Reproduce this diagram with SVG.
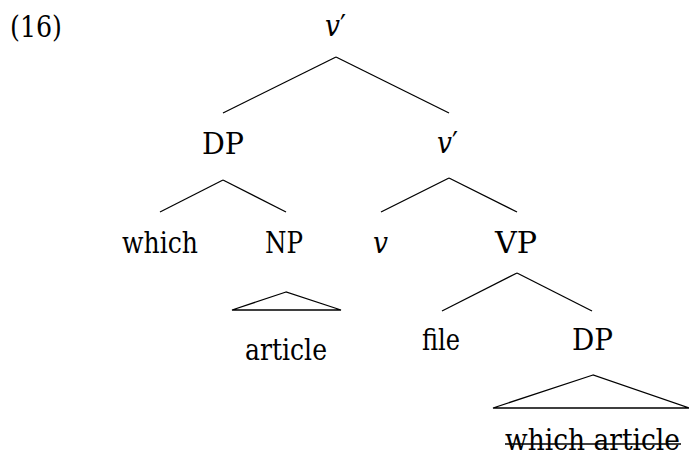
<svg xmlns="http://www.w3.org/2000/svg" width="689" height="460" viewBox="0 0 689 460">
<style>
.t text{font-size:29px;fill:#000}
.it{font-style:italic}
line,polygon{stroke:#000;stroke-width:1.3;fill:none}
</style>
<rect width="689" height="460" fill="#fff"/>
<g class="t" font-family="DejaVu Serif, serif">
<text x="10" y="37" textLength="52" lengthAdjust="spacingAndGlyphs">(16)</text>
<g id="n-vbar-top"><text x="325" y="36" textLength="21" lengthAdjust="spacingAndGlyphs"><tspan class="it">v</tspan>′</text></g>
<g id="n-dp1"><text x="202" y="154" textLength="42" lengthAdjust="spacingAndGlyphs">DP</text></g>
<g id="n-vbar2"><text x="437" y="153" textLength="21" lengthAdjust="spacingAndGlyphs"><tspan class="it">v</tspan>′</text></g>
<g id="n-which"><text x="122" y="253" textLength="76" lengthAdjust="spacingAndGlyphs">which</text></g>
<g id="n-np"><text x="265" y="253" textLength="38" lengthAdjust="spacingAndGlyphs">NP</text></g>
<g id="n-v"><text class="it" x="373" y="253" textLength="15" lengthAdjust="spacingAndGlyphs">v</text></g>
<g id="n-vp"><text x="495" y="253" textLength="42" lengthAdjust="spacingAndGlyphs">VP</text></g>
<g id="n-article"><text x="245" y="360" textLength="82" lengthAdjust="spacingAndGlyphs">article</text></g>
<g id="n-file"><text x="422" y="350" textLength="38" lengthAdjust="spacingAndGlyphs">file</text></g>
<g id="n-dp2"><text x="572" y="350" textLength="41" lengthAdjust="spacingAndGlyphs">DP</text></g>
<g id="n-which-article"><text x="505" y="450" textLength="175" lengthAdjust="spacingAndGlyphs">which article</text><line x1="505" y1="444" x2="681" y2="444"/></g>
</g>
<g id="connectors">
<line x1="336" y1="57" x2="223" y2="113"/>
<line x1="336" y1="57" x2="449" y2="113"/>
<line x1="223" y1="180" x2="160" y2="212"/>
<line x1="223" y1="180" x2="286" y2="212"/>
<line x1="449" y1="178" x2="381" y2="212"/>
<line x1="449" y1="178" x2="517" y2="212"/>
<polygon points="286,292 232,310 341,310"/>
<line x1="517" y1="273" x2="442" y2="311"/>
<line x1="517" y1="273" x2="592" y2="311"/>
<polygon points="593,375 493,408 689,408"/>
</g>
</svg>
